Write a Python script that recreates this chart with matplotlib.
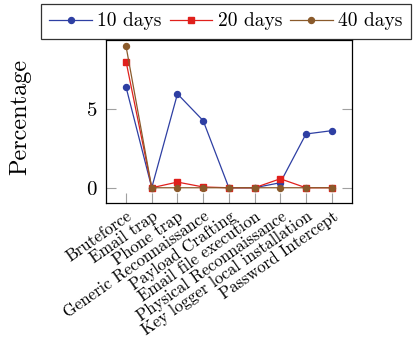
import matplotlib
matplotlib.use("Agg")
import matplotlib.pyplot as plt

plt.rcParams['font.family'] = ['cmr10', 'DejaVu Serif']
plt.rcParams['mathtext.fontset'] = 'cm'
plt.rcParams['axes.unicode_minus'] = False
plt.rcParams['axes.formatter.use_mathtext'] = True

categories = ["Bruteforce", "Email trap", "Phone trap", "Generic Reconnaissance",
              "Payload Crafting", "Email file execution", "Physical Reconnaissance",
              "Key logger local installation", "Password Intercept"]
days_10 = [6.4, 0.0, 5.97, 4.27, 0.0, 0.0, 0.32, 3.42, 3.63]
days_20 = [8.03, 0.0, 0.36, 0.05, 0.0, 0.0, 0.57, 0.0, 0.0]
days_40 = [9.0, 0.0, 0.0, 0.0, 0.0, 0.0, 0.0, 0.0, 0.0]
series_labels = ["10 days", "20 days", "40 days"]

fig = plt.figure(figsize=(4.16, 3.38), dpi=100)
ax = fig.add_axes([0.2548, 0.3994, 0.5913, 0.4823])

x = list(range(len(categories)))
ax.plot(x, days_10, color='#2e3fa3', lw=0.9, marker='o', ms=4.3, label=series_labels[0])
ax.plot(x, days_20, color='#e0201c', lw=0.9, marker='s', ms=4.3, label=series_labels[1])
ax.plot(x, days_40, color='#8a5a2b', lw=0.9, marker='o', ms=4.3, label=series_labels[2])

ax.set_xlim(-0.78, 8.79)
ax.set_ylim(-0.97, 9.4)
ax.set_yticks([0, 5])
ax.set_xticks(x)
ax.set_xticklabels(categories, rotation=35, ha='right', rotation_mode='anchor', fontsize=12)
ax.tick_params(axis='y', labelsize=15, direction='in', length=7, width=0.8,
               color='#a0a0a0', right=True, pad=6)
ax.tick_params(axis='x', direction='in', length=7, width=0.8, color='#a0a0a0', pad=4)
for s in ax.spines.values():
    s.set_linewidth(0.9)
ax.set_ylabel("Percentage", fontsize=17.5)
ax.yaxis.set_label_coords(-0.305, 0.53)

leg = fig.legend(loc='upper left', bbox_to_anchor=(41 / 416, 1 - 4.3 / 338), ncol=3,
                 fontsize=14, frameon=True, fancybox=False, edgecolor='black',
                 handlelength=2.2, handletextpad=0.28, columnspacing=0.4,
                 borderpad=0.42, borderaxespad=0)
leg.get_frame().set_linewidth(0.9)

fig.savefig("out.png", dpi=100)
